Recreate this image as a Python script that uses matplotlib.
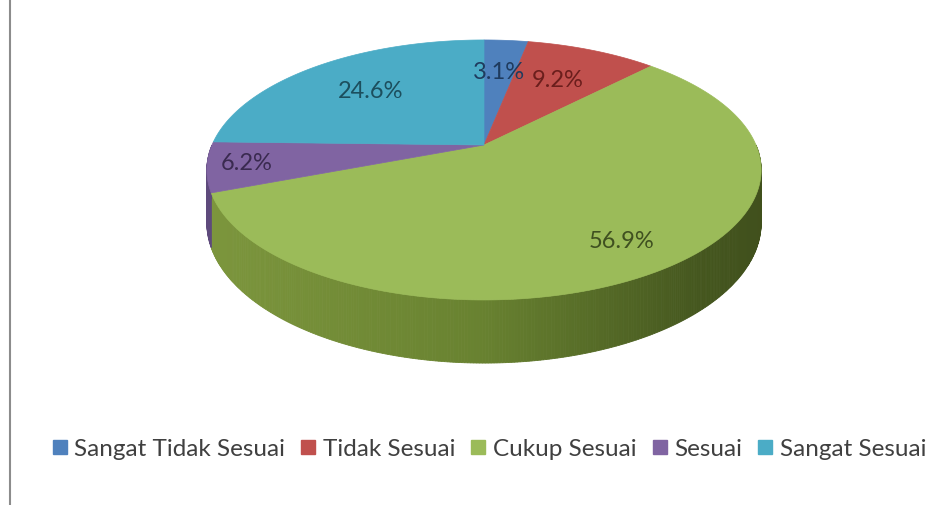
import numpy as np
import matplotlib.pyplot as plt
from matplotlib.patches import Polygon
from matplotlib.lines import Line2D

plt.rcParams['font.family'] = ['Lato', 'DejaVu Sans']

kategori = ['Sangat Tidak Sesuai', 'Tidak Sesuai', 'Cukup Sesuai', 'Sesuai', 'Sangat Sesuai']
persen = [3.1, 9.2, 56.9, 6.2, 24.6]

warna = ['#4F81BD', '#C0504D', '#9BBB59', '#8064A2', '#4BACC6']
warna_label = ['#1F3B5E', '#6B1E1C', '#3F5020', '#3A2A50', '#1C4F5E']
warna_sisi = {3: '#5E4A7C'}
jarak_label = [0.65, 0.65, 0.80, 0.86, 0.65]

# geometri pie 3D (koordinat piksel)
cx, cy = 484, 145
R = 272
B = 125.2
k = 0.192
H = 51


def proyeksi(t, r=1.0):
    # t: sudut searah jarum jam dari arah jam 12 (derajat)
    u = r * np.sin(np.radians(t))
    v = r * np.cos(np.radians(t))
    w = 1 + k * v
    return cx + R * u / w, cy - B * v / w, w


fig = plt.figure(figsize=(9.52, 5.05), dpi=100)
ax = fig.add_axes([0, 0, 1, 1])
ax.set_xlim(0, 952)
ax.set_ylim(505, 0)
ax.axis('off')

total = sum(persen)
batas = np.concatenate([[0], np.cumsum(persen)]) / total * 360


def warna_hijau(x):
    xs = [200, 480, 700, 770]
    r = np.interp(x, xs, [0.49, 0.41, 0.27, 0.25])
    g = np.interp(x, xs, [0.59, 0.51, 0.34, 0.31])
    b = np.interp(x, xs, [0.24, 0.19, 0.12, 0.11])
    return (r, g, b)


# sisi depan (hanya bagian 90..270 derajat yang terlihat)
for i in range(len(persen)):
    a0 = max(batas[i], 90)
    a1 = min(batas[i + 1], 270)
    if a1 <= a0:
        continue
    ts = np.linspace(a0, a1, int((a1 - a0) * 2) + 2)
    for j in range(len(ts) - 1):
        x0, y0, w0 = proyeksi(ts[j])
        x1, y1, w1 = proyeksi(ts[j + 1])
        quad = [(x0, y0), (x1, y1), (x1, y1 + H / w1), (x0, y0 + H / w0)]
        if i == 2:
            c = warna_hijau((x0 + x1) / 2)
        else:
            c = warna_sisi.get(i, warna[i])
        ax.add_patch(Polygon(quad, closed=True, facecolor=c, edgecolor=c, linewidth=0.6))

# permukaan atas
for i in range(len(persen)):
    ts = np.linspace(batas[i], batas[i + 1], 200)
    xs, ys, _ = proyeksi(ts)
    pts = [(cx, cy)] + list(zip(xs, ys))
    ax.add_patch(Polygon(pts, closed=True, facecolor=warna[i],
                         edgecolor=warna[i], linewidth=0.5))

# label persen
for i in range(len(persen)):
    tengah = (batas[i] + batas[i + 1]) / 2
    x, y, _ = proyeksi(tengah, jarak_label[i])
    ax.text(x, y, f'{persen[i]:.1f}%', ha='center', va='center',
            fontsize=17, color=warna_label[i])

# garis tepi kiri
fig.add_artist(Line2D([10 / 952, 10 / 952], [0, 1], transform=fig.transFigure,
                      color='#8c8c8c', linewidth=1.5))

handles = [Line2D([], [], marker='s', linestyle='none', markersize=10,
                  markerfacecolor=c, markeredgecolor=c) for c in warna]
fig.legend(handles, kategori, loc='center', bbox_to_anchor=(0.514, 0.11),
           ncol=5, frameon=False, fontsize=17.5, handlelength=0.6,
           handletextpad=0.3, columnspacing=0.65, labelcolor='#404040')

fig.savefig('out.png', dpi=100, facecolor='white')
